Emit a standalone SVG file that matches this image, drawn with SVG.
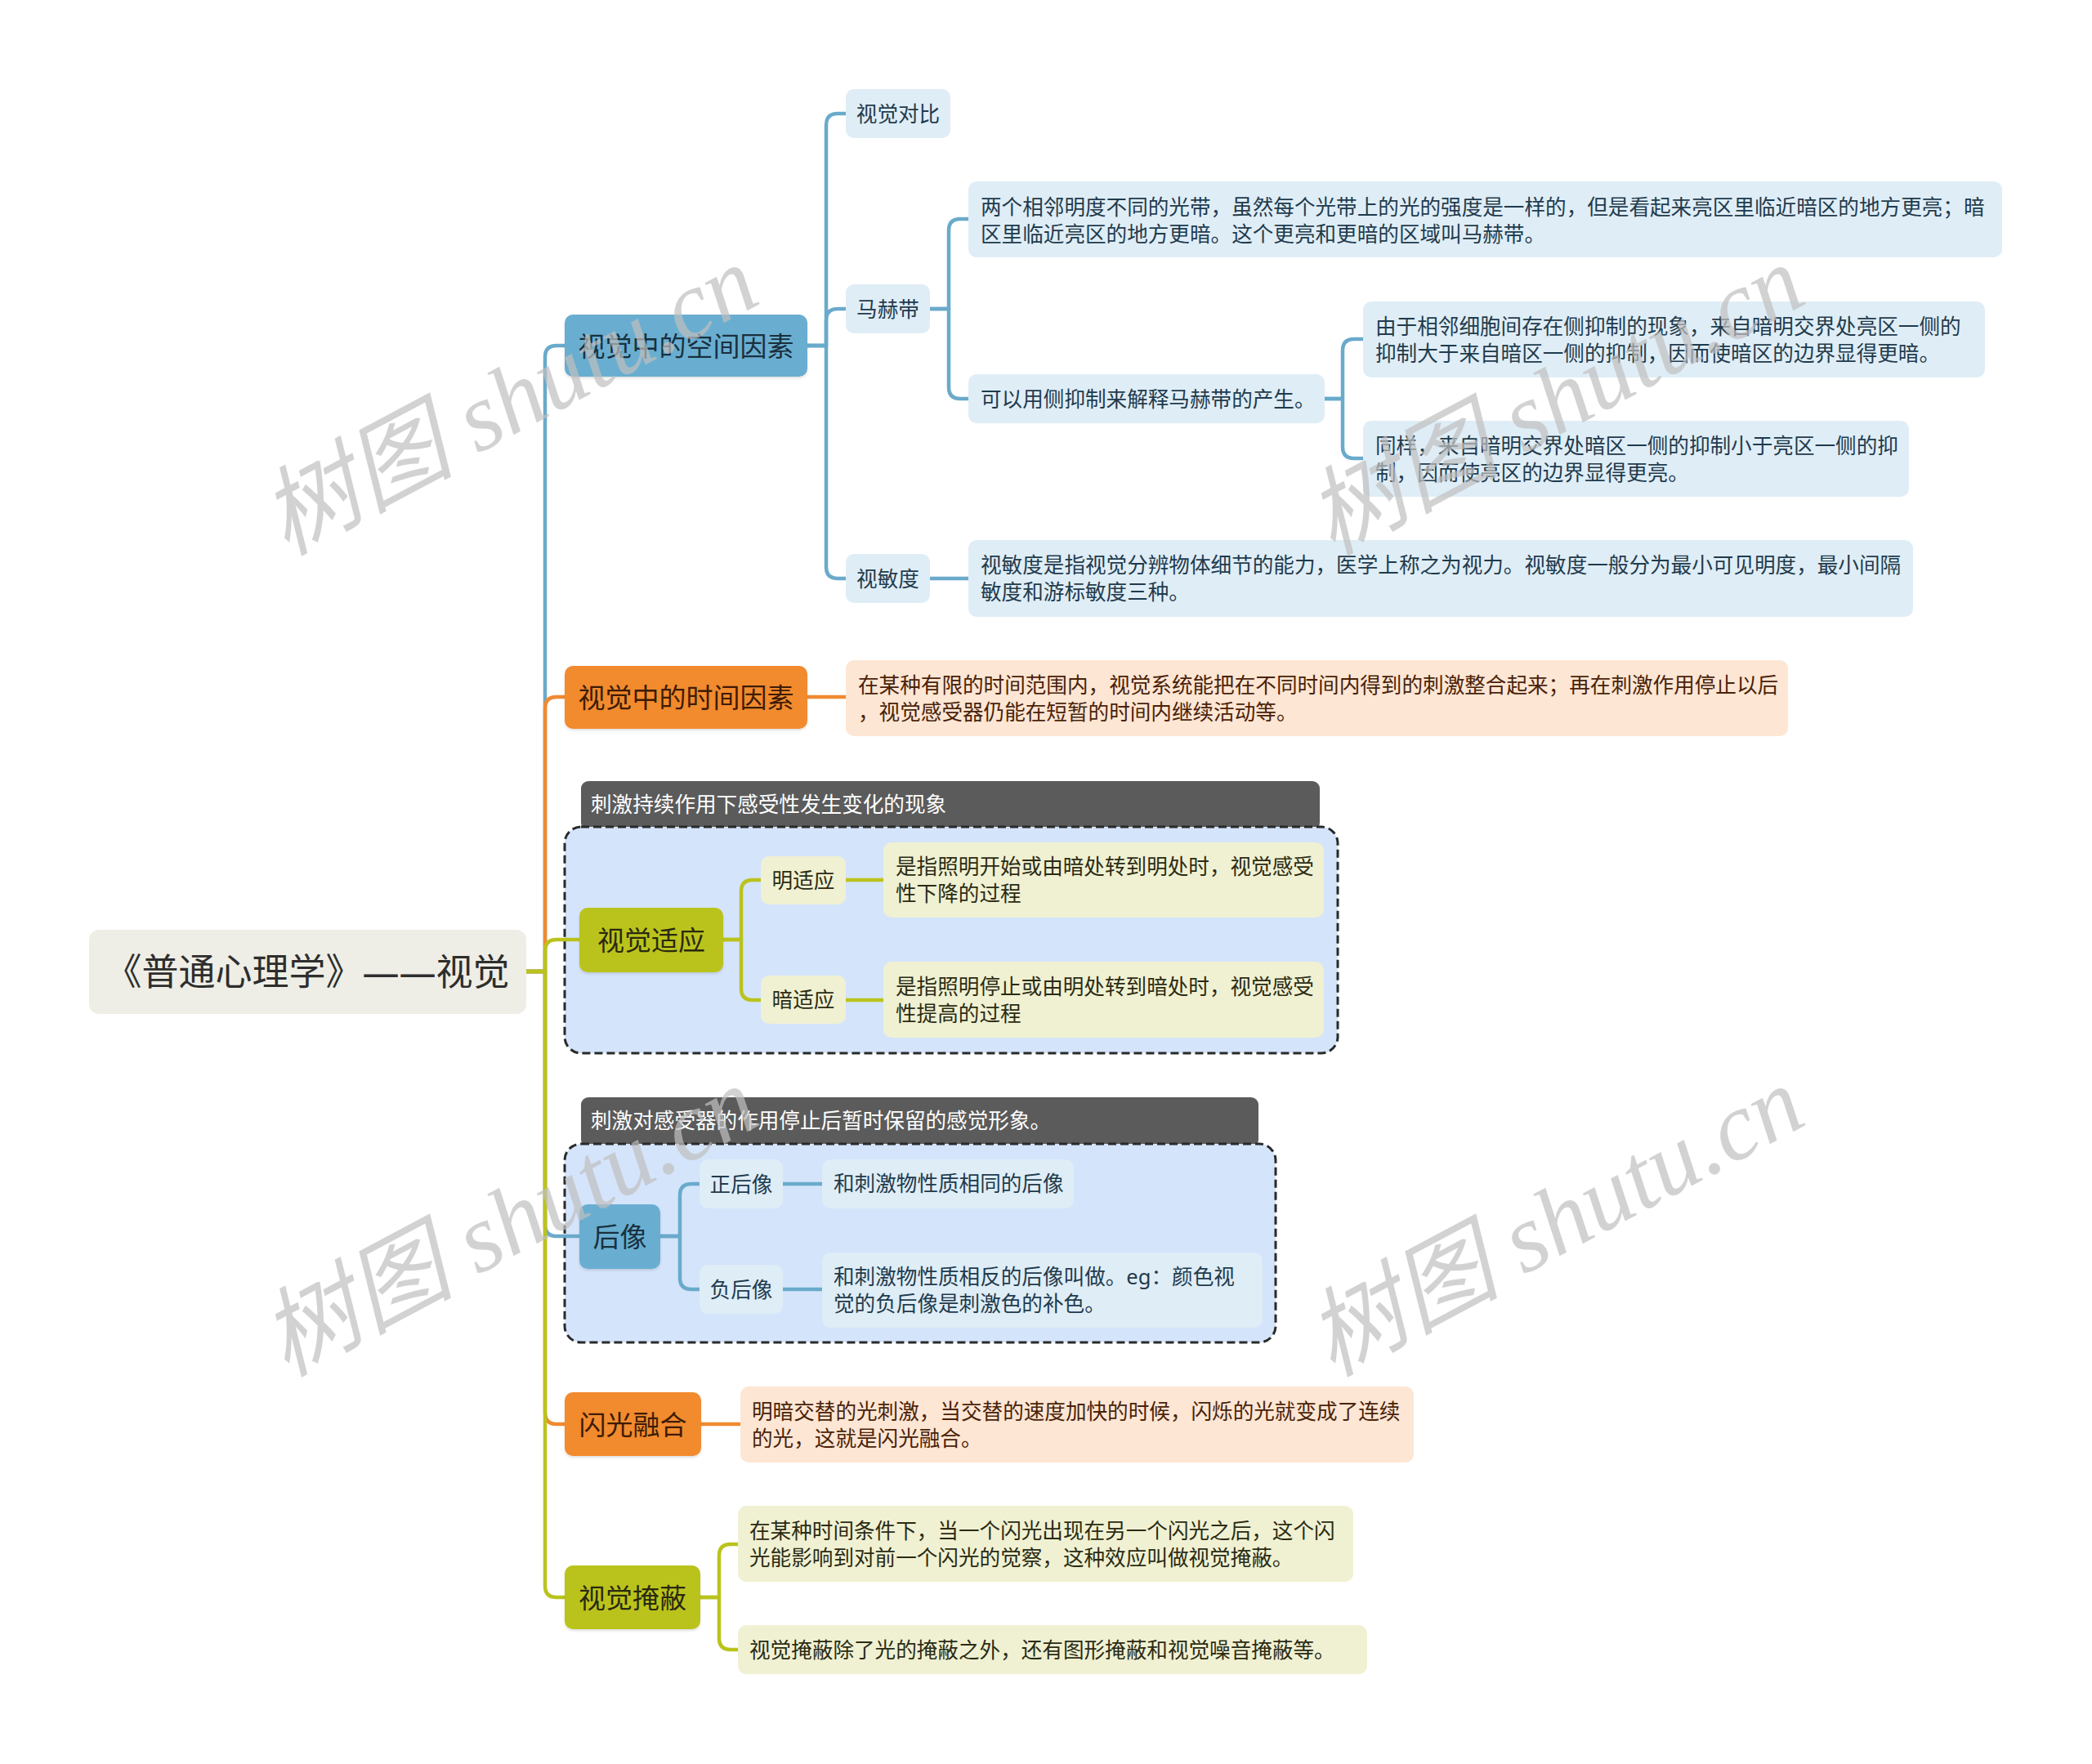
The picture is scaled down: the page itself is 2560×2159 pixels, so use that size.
<svg xmlns="http://www.w3.org/2000/svg" width="2560" height="2159" viewBox="0 0 2560 2159">
<defs>
<filter id="sh" x="-10%" y="-20%" width="120%" height="150%">
<feDropShadow dx="0" dy="2" stdDeviation="1.5" flood-color="#000" flood-opacity="0.12"/>
</filter>
<style>
text{font-family:"Noto Sans","Noto Sans CJK SC",sans-serif;}
.f26{font-size:25.6px;}
.f33{font-size:33px;}
.mid{text-anchor:middle;}
.cn{fill:none;stroke-width:4.5;stroke-linejoin:round;}
.cb{stroke:#6AAACB;}
.co{stroke:#F08A30;}
.cg{stroke:#BAC31C;}
.nb1{fill:#69AED0;}
.no1{fill:#F28A2E;}
.ng1{fill:#BAC31A;}
.lb{fill:#DFEDF6;}
.lo{fill:#FDE6D4;}
.lg{fill:#F0F1D2;}
.tb{fill:#1F3B4D;}
.to{fill:#4A2208;}
.tg{fill:#2B2B14;}
.tb1{fill:#19303E;}
.to1{fill:#3D1C05;}
.tg1{fill:#2A2A10;}
.bar{fill:#5B5B5B;}
.tw{fill:#FFFFFF;}
.dash{fill:#D4E4FB;stroke:#2A2A2A;stroke-width:3;stroke-dasharray:10 5;}
.wm{font-family:"Liberation Serif","Noto Sans CJK SC",serif;font-style:italic;font-size:118px;fill:#C0C0C0;opacity:0.7;text-anchor:middle;}
</style>
</defs>
<rect x="0" y="0" width="2560" height="2159" fill="#FFFFFF"/>

<g id="boundaries">
<g id="boundary-adapt">
<rect class="bar" x="711" y="956" width="904" height="60" rx="9"/>
<text class="f26 tw" x="723" y="993.7">刺激持续作用下感受性发生变化的现象</text>
<rect class="dash" x="691" y="1012" width="946" height="277" rx="20"/>
</g>
<g id="boundary-after">
<rect class="bar" x="711" y="1343" width="829" height="61" rx="9"/>
<text class="f26 tw" x="723" y="1380.7">刺激对感受器的作用停止后暂时保留的感觉形象。</text>
<rect class="dash" x="691" y="1400" width="870" height="243" rx="20"/>
</g>
</g>

<g id="connectors">
<path class="cn cb" d="M644 1189 H667 V437 Q667 423 681 423 H691"/>
<path class="cn co" d="M644 1189 H667 V867 Q667 853 681 853 H691"/>
<path class="cn cg" d="M644 1189 H667 V1164 Q667 1150 681 1150 H709"/>
<path class="cn cb" d="M644 1189 H667 V1499 Q667 1513 681 1513 H709"/>
<path class="cn co" d="M644 1189 H667 V1729 Q667 1743 681 1743 H691"/>
<path class="cn cg" d="M644 1189 H667 V1941 Q667 1955 681 1955 H691"/>

<path class="cn cb" d="M988 423 H1011 V153 Q1011 139 1025 139 H1035"/>
<path class="cn cb" d="M988 423 H1011 V392 Q1011 378 1025 378 H1035"/>
<path class="cn cb" d="M988 423 H1011 V694 Q1011 708 1025 708 H1035"/>
<path class="cn cb" d="M1138 378 H1161 V282 Q1161 268 1175 268 H1185"/>
<path class="cn cb" d="M1138 378 H1161 V474 Q1161 488 1175 488 H1185"/>
<path class="cn cb" d="M1621 488 H1643 V429 Q1643 415 1657 415 H1668"/>
<path class="cn cb" d="M1621 488 H1643 V547 Q1643 561 1657 561 H1668"/>
<path class="cn cb" d="M1138 708 H1185"/>

<path class="cn co" d="M988 853 H1035"/>

<path class="cn cg" d="M885 1150 H907 V1091 Q907 1077 921 1077 H931"/>
<path class="cn cg" d="M885 1150 H907 V1210 Q907 1224 921 1224 H931"/>
<path class="cn cg" d="M1035 1077 H1081"/>
<path class="cn cg" d="M1035 1224 H1081"/>

<path class="cn cb" d="M808 1513 H832 V1463 Q832 1449 846 1449 H856"/>
<path class="cn cb" d="M808 1513 H832 V1564 Q832 1578 846 1578 H856"/>
<path class="cn cb" d="M958 1449 H1006"/>
<path class="cn cb" d="M958 1578 H1006"/>

<path class="cn co" d="M858 1743 H906"/>

<path class="cn cg" d="M857 1955 H880 V1904 Q880 1890 894 1890 H903"/>
<path class="cn cg" d="M857 1955 H880 V2005 Q880 2019 894 2019 H903"/>
</g>

<g id="root">
<rect x="109" y="1138" width="535" height="103" rx="12" fill="#EEEEE6"/>
<text x="376" y="1206" class="mid" style="font-size:45px;fill:#2E2E2E">《普通心理学》——视觉</text>
</g>

<g id="n-space">
<rect class="nb1" x="691" y="385" width="297" height="76" rx="10" filter="url(#sh)"/>
<text class="f33 tb1 mid" x="839.5" y="435.5">视觉中的空间因素</text>
</g>
<g id="n-contrast">
<rect class="lb" x="1035" y="109" width="128" height="60" rx="10"/>
<text class="f26 tb mid" x="1099" y="148.7">视觉对比</text>
</g>
<g id="n-mach">
<rect class="lb" x="1035" y="348" width="103" height="60" rx="10"/>
<text class="f26 tb mid" x="1086.5" y="387.7">马赫带</text>
</g>
<g id="n-mach-def">
<rect class="lb" x="1185" y="222" width="1265" height="93" rx="10"/>
<text class="f26 tb" x="1200" y="263"><tspan x="1200">两个相邻明度不同的光带，虽然每个光带上的光的强度是一样的，但是看起来亮区里临近暗区的地方更亮；暗</tspan><tspan x="1200" y="296">区里临近亮区的地方更暗。这个更亮和更暗的区域叫马赫带。</tspan></text>
</g>
<g id="n-lateral">
<rect class="lb" x="1185" y="458" width="436" height="60" rx="10"/>
<text class="f26 tb" x="1200" y="497.7">可以用侧抑制来解释马赫带的产生。</text>
</g>
<g id="n-lateral-1">
<rect class="lb" x="1668" y="369" width="761" height="93" rx="10"/>
<text class="f26 tb" x="1683" y="408.7"><tspan x="1683">由于相邻细胞间存在侧抑制的现象，来自暗明交界处亮区一侧的</tspan><tspan x="1683" y="441.7">抑制大于来自暗区一侧的抑制，因而使暗区的边界显得更暗。</tspan></text>
</g>
<g id="n-lateral-2">
<rect class="lb" x="1668" y="515" width="668" height="93" rx="10"/>
<text class="f26 tb" x="1683" y="554.7"><tspan x="1683">同样，来自暗明交界处暗区一侧的抑制小于亮区一侧的抑</tspan><tspan x="1683" y="587.7">制，因而使亮区的边界显得更亮。</tspan></text>
</g>
<g id="n-acuity">
<rect class="lb" x="1035" y="678" width="103" height="60" rx="10"/>
<text class="f26 tb mid" x="1086.5" y="717.7">视敏度</text>
</g>
<g id="n-acuity-def">
<rect class="lb" x="1185" y="661" width="1156" height="94" rx="10"/>
<text class="f26 tb" x="1200" y="701.2"><tspan x="1200">视敏度是指视觉分辨物体细节的能力，医学上称之为视力。视敏度一般分为最小可见明度，最小间隔</tspan><tspan x="1200" y="734.2">敏度和游标敏度三种。</tspan></text>
</g>

<g id="n-time">
<rect class="no1" x="691" y="815" width="297" height="77" rx="10" filter="url(#sh)"/>
<text class="f33 to1 mid" x="839.5" y="865.5">视觉中的时间因素</text>
</g>
<g id="n-time-def">
<rect class="lo" x="1035" y="808" width="1153" height="93" rx="10"/>
<text class="f26 to" x="1050" y="847.7"><tspan x="1050">在某种有限的时间范围内，视觉系统能把在不同时间内得到的刺激整合起来；再在刺激作用停止以后</tspan><tspan x="1050" y="880.7">，视觉感受器仍能在短暂的时间内继续活动等。</tspan></text>
</g>

<g id="n-adapt">
<rect class="ng1" x="709" y="1111" width="176" height="79" rx="10" filter="url(#sh)"/>
<text class="f33 tg1 mid" x="797" y="1163">视觉适应</text>
</g>
<g id="n-light">
<rect class="lg" x="931" y="1048" width="104" height="59" rx="10"/>
<text class="f26 tg mid" x="983" y="1087.2">明适应</text>
</g>
<g id="n-light-def">
<rect class="lg" x="1081" y="1031" width="539" height="92" rx="10"/>
<text class="f26 tg" x="1096" y="1070.2"><tspan x="1096">是指照明开始或由暗处转到明处时，视觉感受</tspan><tspan x="1096" y="1103.2">性下降的过程</tspan></text>
</g>
<g id="n-dark">
<rect class="lg" x="931" y="1194" width="104" height="59" rx="10"/>
<text class="f26 tg mid" x="983" y="1233.2">暗适应</text>
</g>
<g id="n-dark-def">
<rect class="lg" x="1081" y="1177" width="539" height="93" rx="10"/>
<text class="f26 tg" x="1096" y="1216.7"><tspan x="1096">是指照明停止或由明处转到暗处时，视觉感受</tspan><tspan x="1096" y="1249.7">性提高的过程</tspan></text>
</g>

<g id="n-after">
<rect class="nb1" x="709" y="1474" width="99" height="79" rx="10" filter="url(#sh)"/>
<text class="f33 tb1 mid" x="758.5" y="1525.5">后像</text>
</g>
<g id="n-pos">
<rect class="lb" x="856" y="1419" width="102" height="60" rx="10"/>
<text class="f26 tb mid" x="907" y="1458.7">正后像</text>
</g>
<g id="n-pos-def">
<rect class="lb" x="1006" y="1419" width="308" height="60" rx="10"/>
<text class="f26 tb" x="1020" y="1458.2">和刺激物性质相同的后像</text>
</g>
<g id="n-neg">
<rect class="lb" x="856" y="1548" width="102" height="60" rx="10"/>
<text class="f26 tb mid" x="907" y="1587.7">负后像</text>
</g>
<g id="n-neg-def">
<rect class="lb" x="1006" y="1533" width="539" height="92" rx="10"/>
<text class="f26 tb" x="1020" y="1572.2"><tspan x="1020">和刺激物性质相反的后像叫做。eg：颜色视</tspan><tspan x="1020" y="1605.2">觉的负后像是刺激色的补色。</tspan></text>
</g>

<g id="n-flash">
<rect class="no1" x="691" y="1704" width="167" height="78" rx="10" filter="url(#sh)"/>
<text class="f33 to1 mid" x="774.5" y="1755.5">闪光融合</text>
</g>
<g id="n-flash-def">
<rect class="lo" x="906" y="1697" width="824" height="93" rx="10"/>
<text class="f26 to" x="920" y="1736.7"><tspan x="920">明暗交替的光刺激，当交替的速度加快的时候，闪烁的光就变成了连续</tspan><tspan x="920" y="1769.7">的光，这就是闪光融合。</tspan></text>
</g>

<g id="n-mask">
<rect class="ng1" x="691" y="1916" width="166" height="78" rx="10" filter="url(#sh)"/>
<text class="f33 tg1 mid" x="774" y="1967.5">视觉掩蔽</text>
</g>
<g id="n-mask-def1">
<rect class="lg" x="903" y="1843" width="753" height="93" rx="10"/>
<text class="f26 tg" x="917" y="1882.7"><tspan x="917">在某种时间条件下，当一个闪光出现在另一个闪光之后，这个闪</tspan><tspan x="917" y="1915.7">光能影响到对前一个闪光的觉察，这种效应叫做视觉掩蔽。</tspan></text>
</g>
<g id="n-mask-def2">
<rect class="lg" x="903" y="1989" width="770" height="60" rx="10"/>
<text class="f26 tg" x="917" y="2028.7">视觉掩蔽除了光的掩蔽之外，还有图形掩蔽和视觉噪音掩蔽等。</text>
</g>

<g id="watermarks">
<text class="wm" x="642" y="525" transform="rotate(-28 642 525)">树图 shutu.cn</text>
<text class="wm" x="1922" y="525" transform="rotate(-28 1922 525)">树图 shutu.cn</text>
<text class="wm" x="642" y="1530" transform="rotate(-28 642 1530)">树图 shutu.cn</text>
<text class="wm" x="1922" y="1530" transform="rotate(-28 1922 1530)">树图 shutu.cn</text>
</g>
</svg>
